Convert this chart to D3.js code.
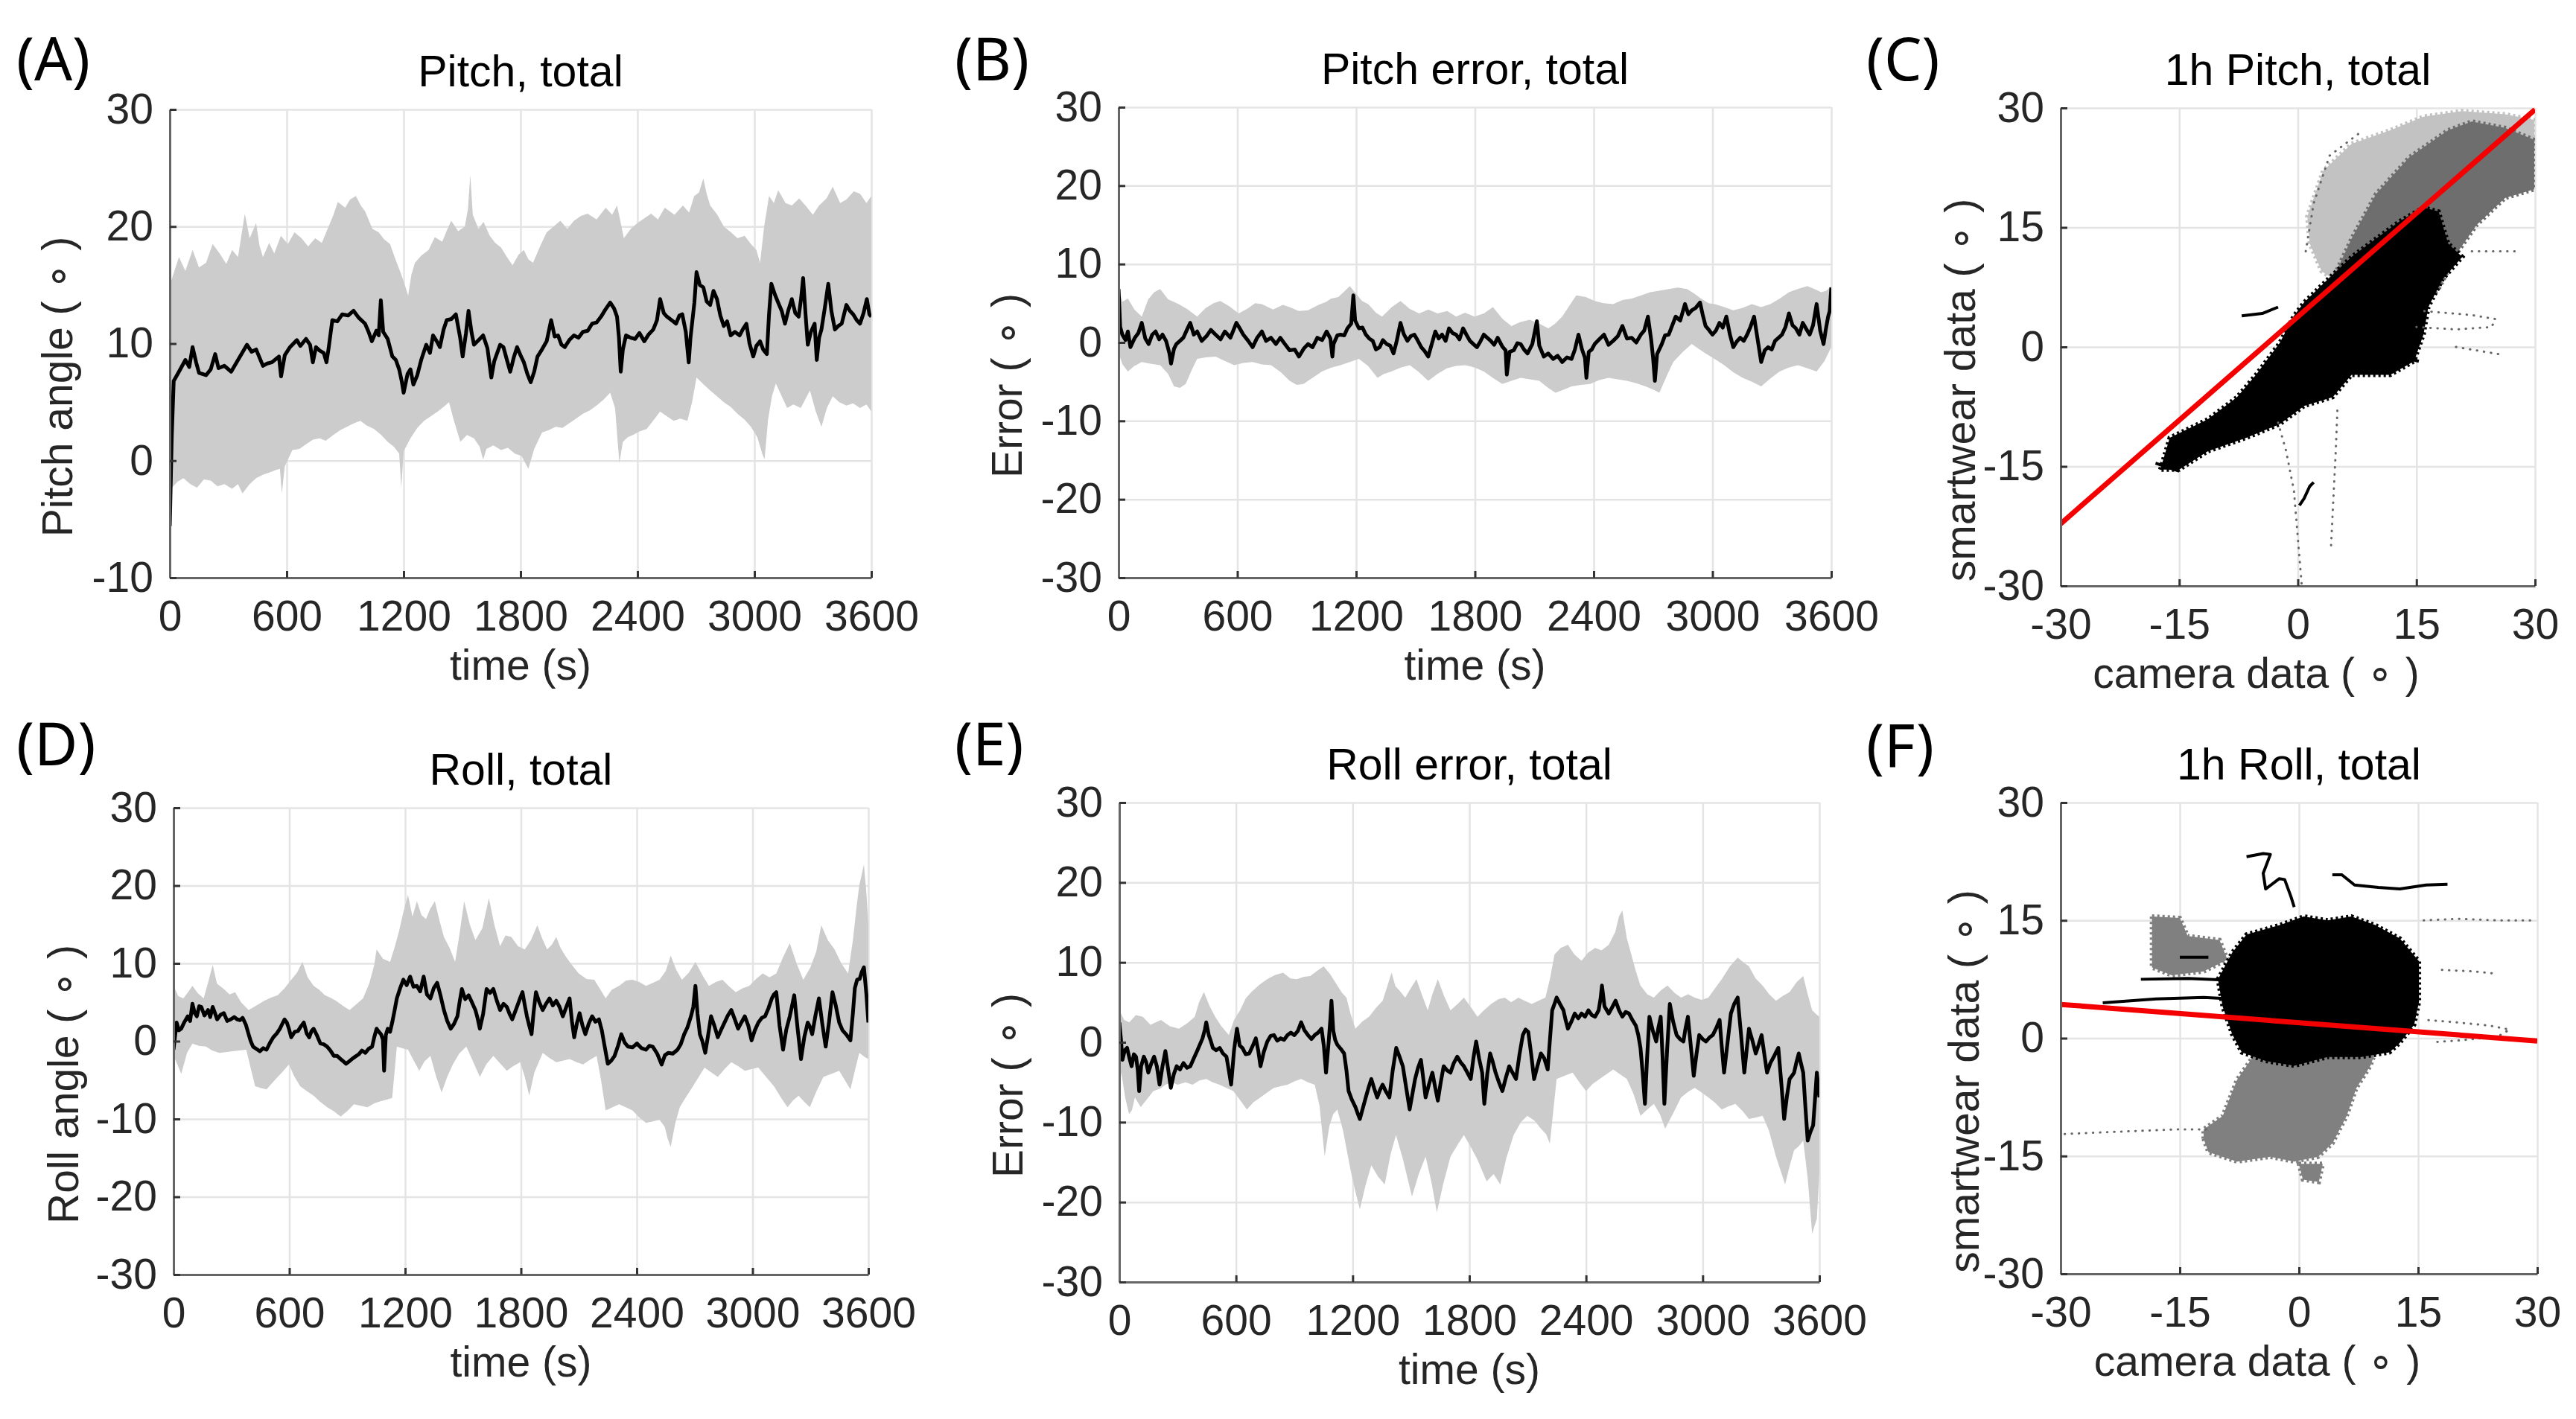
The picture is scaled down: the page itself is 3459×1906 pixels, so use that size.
<!DOCTYPE html>
<html>
<head>
<meta charset="utf-8">
<script src="https://cdn.jsdelivr.net/npm/d3@7"></script>
<style>
body{margin:0;background:#fff;}
svg text{font-family:"Liberation Sans",Arial,sans-serif;}
</style>
</head>
<body>
<svg id="fig" width="3459" height="1906"></svg>
<script>
var timeTicks = [0,600,1200,1800,2400,3000,3600];
var pitchTicks = [-10,0,10,20,30];
var errTicks = [-30,-20,-10,0,10,20,30];
var scatTicks = [-30,-15,0,15,30];

// (A) pitch, total : [time s, deg]
var pitchMean = [[0,-5.6],[10,2],[20,6.8],[47,7.6],[80,8.6],[100,8.0],[117,9.7],[135,8.4],[150,7.5],[186,7.3],[210,7.8],[233,9.1],[250,7.9],[280,8.1],[315,7.6],[350,8.6],[396,9.9],[420,9.3],[443,9.5],[478,8.1],[500,8.3],[524,8.4],[560,8.9],[571,7.2],[590,9.0],[617,9.7],[652,10.3],[670,9.8],[699,10.4],[720,9.9],[734,8.4],[750,9.7],[769,9.4],[790,9.2],[804,8.4],[815,9.6],[834,12.0],[860,11.9],[885,12.5],[915,12.4],[943,12.8],[970,12.2],[1002,11.7],[1020,11.0],[1037,10.2],[1060,11.1],[1072,10.7],[1083,13.7],[1095,11.0],[1118,10.4],[1142,8.9],[1160,8.6],[1177,7.8],[1190,6.8],[1200,5.8],[1220,7.4],[1235,7.8],[1250,6.5],[1270,7.3],[1290,8.6],[1316,9.9],[1335,9.2],[1351,10.7],[1370,10.2],[1386,9.7],[1405,11.2],[1421,12.0],[1445,12.1],[1468,12.5],[1490,10.5],[1503,8.9],[1520,10.9],[1533,12.8],[1548,11.0],[1561,9.9],[1585,10.3],[1608,10.7],[1630,9.6],[1650,7.1],[1665,8.5],[1678,9.1],[1695,9.9],[1712,9.7],[1730,8.6],[1747,7.6],[1765,8.8],[1782,9.7],[1800,9.0],[1817,8.4],[1835,7.4],[1852,6.7],[1870,7.6],[1887,8.9],[1910,9.5],[1934,10.2],[1957,12.0],[1975,10.6],[1992,10.7],[2010,9.9],[2027,9.7],[2050,10.3],[2074,10.7],[2097,10.5],[2120,11.0],[2145,11.1],[2167,11.7],[2190,11.8],[2213,12.3],[2235,12.9],[2260,13.5],[2280,13.0],[2295,12.3],[2305,10.5],[2314,7.6],[2325,9.5],[2341,10.7],[2365,10.5],[2388,10.4],[2410,10.9],[2435,10.2],[2458,10.8],[2481,11.2],[2500,12.0],[2516,13.8],[2535,12.6],[2551,12.3],[2575,12.0],[2598,11.7],[2615,12.4],[2630,12.5],[2648,11.0],[2663,8.4],[2672,10.5],[2680,11.7],[2692,13.5],[2703,16.1],[2720,15.0],[2738,14.8],[2755,13.6],[2773,13.3],[2790,14.5],[2808,13.8],[2825,12.4],[2843,11.5],[2860,11.9],[2878,10.7],[2900,11.0],[2924,10.7],[2940,11.2],[2959,11.7],[2975,10.0],[2994,8.9],[3010,9.8],[3029,10.2],[3045,9.5],[3064,9.1],[3075,12.5],[3087,15.1],[3105,14.2],[3122,13.5],[3140,12.8],[3157,11.7],[3175,12.9],[3192,13.8],[3210,12.6],[3227,12.3],[3240,13.9],[3250,15.6],[3262,12.6],[3274,9.9],[3290,11.0],[3309,11.7],[3320,8.6],[3332,10.5],[3344,11.2],[3360,12.9],[3379,15.1],[3395,12.8],[3413,11.2],[3430,11.5],[3448,11.7],[3460,12.5],[3472,13.3],[3490,12.8],[3507,12.5],[3525,12.0],[3542,11.7],[3560,12.6],[3577,13.8],[3590,12.5],[3600,12.3]];
var pitchUpper = [[0,15],[47,17.4],[80,16.2],[117,18.0],[150,16.5],[186,16.9],[220,18.5],[256,17.7],[290,16.8],[320,18.0],[350,17.4],[385,21.1],[410,19.0],[443,20.3],[460,18.4],[478,17.4],[510,18.6],[536,17.7],[570,19.2],[606,18.5],[640,19.5],[676,19.0],[710,18.3],[746,19.0],[780,18.6],[815,20.0],[840,21.0],[862,22.1],[900,21.6],[925,22.3],[955,22.6],[980,21.8],[1002,21.3],[1040,19.8],[1072,19.5],[1100,18.9],[1130,18.5],[1160,17.1],[1188,15.9],[1210,14.8],[1223,14.1],[1240,15.9],[1258,16.9],[1290,17.5],[1328,18.0],[1360,19.1],[1398,18.7],[1420,19.6],[1444,20.5],[1480,19.6],[1514,20.0],[1530,21.5],[1542,24.4],[1555,21.0],[1584,19.8],[1610,20.4],[1642,19.2],[1670,18.6],[1700,18.2],[1730,17.4],[1759,16.7],[1790,17.6],[1817,18.0],[1840,17.2],[1864,16.9],[1900,18.3],[1934,19.5],[1970,20.0],[2004,20.5],[2040,19.8],[2074,20.5],[2110,20.9],[2144,21.1],[2190,20.6],[2237,21.6],[2270,21.0],[2295,21.8],[2312,20.5],[2330,19.0],[2365,19.8],[2400,20.3],[2435,20.7],[2470,21.1],[2505,20.6],[2540,21.6],[2590,21.0],[2633,21.8],[2665,21.2],[2691,22.6],[2715,22.9],[2738,24.1],[2755,22.8],[2773,21.8],[2810,21.0],[2843,20.0],[2880,19.5],[2913,19.0],[2950,19.2],[2982,18.5],[3010,18.0],[3029,16.9],[3050,20.0],[3075,22.6],[3100,22.0],[3122,23.1],[3160,22.0],[3192,21.8],[3230,22.4],[3262,21.8],[3300,21.0],[3332,21.8],[3370,22.4],[3402,23.4],[3440,22.0],[3472,22.3],[3510,23.0],[3542,22.8],[3575,22.0],[3600,22.6]];
var pitchLower = [[0,-2.5],[40,-1.8],[70,-1.5],[105,-2.0],[140,-2.3],[175,-1.6],[210,-1.7],[245,-2.2],[280,-2.0],[320,-2.4],[350,-2.0],[373,-2.8],[410,-2.0],[443,-1.5],[480,-1.2],[513,-1.0],[545,-0.8],[565,-0.7],[575,-2.8],[590,-0.5],[629,0.9],[665,1.0],[699,1.4],[735,1.8],[769,1.9],[800,1.7],[839,2.2],[875,2.6],[909,2.9],[945,3.2],[978,3.4],[1010,3.0],[1048,2.7],[1085,2.2],[1118,1.6],[1150,1.2],[1177,0.6],[1188,-2.3],[1200,0.8],[1235,1.9],[1270,2.8],[1305,3.4],[1340,3.8],[1375,4.2],[1405,4.6],[1433,5.0],[1455,3.6],[1491,1.6],[1525,2.2],[1561,1.9],[1590,1.2],[1608,0.1],[1625,1.0],[1660,1.3],[1700,0.9],[1735,1.1],[1770,0.6],[1805,0.4],[1840,-0.7],[1870,1.0],[1910,2.4],[1945,2.6],[1980,2.9],[2015,2.8],[2050,3.2],[2085,3.6],[2120,4.0],[2155,4.3],[2190,4.7],[2225,5.2],[2260,5.8],[2285,4.5],[2307,-0.2],[2325,1.6],[2350,2.0],[2377,2.2],[2410,2.5],[2447,2.7],[2480,3.4],[2516,4.2],[2550,3.8],[2586,3.4],[2620,3.6],[2656,3.4],[2680,5.0],[2703,7.1],[2740,6.5],[2773,6.0],[2808,5.5],[2843,5.0],[2878,4.6],[2913,4.0],[2950,3.5],[2982,2.9],[3015,2.0],[3040,0.6],[3052,0.1],[3070,3.5],[3090,5.5],[3110,6.6],[3140,5.5],[3168,4.5],[3200,4.8],[3238,4.5],[3260,5.2],[3285,6.0],[3315,4.2],[3344,2.9],[3372,4.5],[3402,5.5],[3436,5.0],[3472,4.7],[3506,4.9],[3542,4.5],[3575,4.8],[3600,4.2]];

// (B) pitch error, total
var pitchErrMean = [[0,6.8],[8,2.0],[19,1.0],[35,0.3],[47,1.4],[60,-0.6],[82,0.6],[100,1.2],[117,2.5],[135,0.5],[152,-0.2],[170,1.0],[187,1.4],[205,0.4],[222,1.0],[240,0.2],[257,-1.4],[265,-2.7],[280,-0.8],[292,-0.2],[310,0.2],[327,0.6],[345,1.6],[362,2.5],[380,1.0],[397,1.4],[420,0.2],[444,0.8],[466,1.6],[490,1.0],[515,0.4],[537,1.4],[565,0.6],[595,2.5],[612,1.8],[630,1.0],[655,0.2],[677,-0.6],[700,0.6],[724,1.4],[745,0.2],[770,0.6],[795,-0.2],[817,0.6],[840,-0.2],[864,-1.0],[890,-0.9],[911,-1.8],[935,-0.8],[957,-0.2],[980,-0.6],[1004,0.6],[1028,0.3],[1051,1.4],[1070,0.5],[1080,-1.8],[1086,-0.2],[1105,0.9],[1121,1.0],[1140,0.9],[1156,1.8],[1175,2.4],[1186,6.0],[1195,2.8],[1214,1.8],[1232,1.9],[1249,1.0],[1266,0.5],[1284,0.2],[1300,-0.9],[1319,-0.6],[1335,0.3],[1354,-0.2],[1372,-0.4],[1389,-1.4],[1405,0.2],[1424,2.5],[1440,1.1],[1459,0.2],[1476,0.8],[1494,1.0],[1510,0.3],[1529,-0.6],[1546,-1.1],[1564,-1.8],[1582,-0.2],[1600,1.4],[1617,0.5],[1634,1.0],[1652,0.2],[1669,1.8],[1687,1.2],[1705,1.0],[1722,0.4],[1740,1.8],[1757,1.0],[1775,0.2],[1792,-0.2],[1810,-0.6],[1827,0.1],[1845,1.0],[1862,0.6],[1880,0.2],[1897,-0.3],[1915,0.6],[1938,-0.5],[1955,-1.0],[1961,-4.1],[1975,-1.2],[1996,-1.0],[2014,-0.1],[2031,-0.2],[2048,-0.9],[2066,-1.4],[2090,-0.2],[2113,2.7],[2125,-0.4],[2148,-1.8],[2170,-1.4],[2195,-2.1],[2218,-1.7],[2241,-2.5],[2265,-1.9],[2288,-2.1],[2305,-0.9],[2323,1.0],[2340,-0.8],[2356,-2.0],[2363,-4.5],[2375,-1.2],[2390,-0.9],[2405,-0.2],[2428,0.4],[2452,1.0],[2475,-0.3],[2498,0.2],[2522,0.8],[2545,2.1],[2568,0.5],[2592,0.6],[2615,0.0],[2638,1.0],[2655,1.5],[2674,3.3],[2690,0.4],[2700,-2.0],[2709,-4.9],[2720,-1.5],[2744,-0.2],[2760,0.9],[2779,1.0],[2797,2.2],[2814,3.3],[2837,2.8],[2861,4.9],[2878,3.6],[2895,4.1],[2915,4.4],[2937,5.1],[2950,3.6],[2965,2.1],[2982,1.6],[3000,1.0],[3017,1.5],[3035,2.5],[3052,1.9],[3070,3.3],[3088,1.0],[3105,-0.6],[3122,0.1],[3140,0.6],[3158,0.2],[3175,1.0],[3192,2.0],[3210,3.3],[3228,0.4],[3246,-2.5],[3264,-1.0],[3281,-0.6],[3299,-0.9],[3316,0.2],[3334,0.6],[3351,1.0],[3369,2.0],[3386,3.7],[3404,2.2],[3421,1.8],[3439,1.0],[3456,2.5],[3474,1.7],[3491,1.0],[3508,2.2],[3526,4.9],[3544,1.5],[3561,-0.2],[3572,1.6],[3584,3.3],[3592,4.0],[3600,7.0]];
var pitchErrUpper = [[0,6.8],[20,5.2],[47,5.6],[80,4.2],[117,3.3],[150,5.5],[180,6.4],[210,6.8],[250,5.5],[304,4.9],[350,4.2],[397,3.3],[440,4.4],[480,5.0],[514,5.3],[560,4.6],[607,3.7],[650,4.3],[690,5.0],[724,4.9],[780,4.2],[830,4.8],[864,4.5],[910,4.0],[957,4.1],[1010,4.8],[1050,5.2],[1074,5.6],[1110,5.8],[1140,6.5],[1168,7.2],[1200,6.2],[1230,5.3],[1261,4.9],[1300,3.8],[1331,3.3],[1380,4.5],[1424,5.3],[1470,4.3],[1518,3.7],[1565,4.2],[1611,3.7],[1660,4.0],[1705,3.3],[1750,3.8],[1798,3.3],[1845,3.7],[1891,4.5],[1940,3.0],[1985,2.1],[2030,2.6],[2078,2.9],[2125,2.4],[2171,1.8],[2205,2.4],[2241,3.3],[2280,4.8],[2312,6.0],[2360,5.8],[2405,5.3],[2450,5.0],[2498,4.9],[2545,5.4],[2592,5.6],[2640,6.0],[2685,6.4],[2730,6.6],[2779,6.8],[2825,7.0],[2872,6.8],[2910,6.2],[2942,5.6],[2980,5.0],[3012,4.9],[3060,4.5],[3105,4.1],[3150,4.4],[3199,4.9],[3245,4.5],[3292,4.9],[3340,5.6],[3386,6.4],[3430,6.8],[3479,7.2],[3515,6.8],[3549,6.4],[3575,6.6],[3600,7.2]];
var pitchErrLower = [[0,-1.4],[20,-2.8],[47,-3.7],[80,-3.0],[117,-2.5],[160,-2.7],[210,-2.9],[250,-4.0],[280,-5.6],[310,-5.8],[339,-5.3],[370,-3.5],[397,-2.1],[440,-1.9],[490,-1.8],[540,-2.4],[584,-2.9],[630,-2.6],[677,-2.5],[724,-2.8],[770,-2.9],[820,-3.8],[864,-4.9],[900,-5.4],[934,-5.3],[980,-4.5],[1027,-3.7],[1075,-3.2],[1121,-2.9],[1168,-2.5],[1214,-2.1],[1260,-3.0],[1308,-4.5],[1340,-4.0],[1378,-3.7],[1425,-3.2],[1471,-2.9],[1518,-3.8],[1564,-4.9],[1611,-4.0],[1658,-3.3],[1705,-3.0],[1751,-2.9],[1800,-3.2],[1845,-3.7],[1890,-4.5],[1938,-5.3],[1985,-4.9],[2031,-4.5],[2078,-4.7],[2125,-4.9],[2170,-5.8],[2207,-6.4],[2250,-6.0],[2288,-5.6],[2335,-5.4],[2382,-5.3],[2428,-4.8],[2475,-4.5],[2520,-4.7],[2568,-4.9],[2615,-5.2],[2662,-5.6],[2700,-6.0],[2732,-6.4],[2770,-4.2],[2802,-2.5],[2850,-1.2],[2895,-0.2],[2930,-0.8],[2965,-1.4],[3010,-2.1],[3059,-2.9],[3105,-3.8],[3152,-4.5],[3199,-5.0],[3246,-5.6],[3292,-4.6],[3339,-3.7],[3385,-3.2],[3432,-2.9],[3480,-3.3],[3526,-3.7],[3565,-2.4],[3600,-0.6]];

// (D) roll, total
var rollMean = [[0,-1.1],[16,2.4],[28,1.4],[40,1.6],[55,2.4],[74,3.2],[86,2.6],[98,4.8],[110,3.6],[121,3.2],[133,4.5],[144,4.4],[160,3.3],[179,4.0],[190,3.1],[203,4.4],[215,3.6],[226,2.8],[244,3.4],[261,3.6],[278,2.6],[296,2.8],[315,3.1],[330,2.8],[345,2.7],[358,3.0],[375,2.1],[389,0.9],[400,0.0],[412,-0.7],[430,-1.0],[447,-1.3],[465,-0.9],[482,-1.1],[500,-0.2],[517,0.5],[535,1.0],[551,1.6],[563,2.2],[575,2.8],[587,2.4],[598,1.6],[610,0.5],[628,1.2],[645,1.3],[660,1.9],[675,2.4],[690,1.0],[703,0.5],[715,1.3],[726,1.6],[744,0.7],[761,-0.3],[778,-0.4],[796,-0.7],[813,-1.2],[831,-1.9],[848,-1.9],[866,-2.3],[880,-2.6],[894,-2.9],[910,-2.6],[924,-2.3],[941,-2.0],[959,-1.7],[976,-1.2],[994,-1.5],[1010,-1.0],[1029,-0.7],[1040,0.5],[1052,1.6],[1064,1.2],[1075,0.9],[1085,0.2],[1091,-3.8],[1100,0.8],[1110,1.6],[1122,1.2],[1133,2.4],[1145,3.9],[1157,5.5],[1174,6.8],[1191,7.9],[1208,7.2],[1226,8.3],[1243,7.0],[1261,7.1],[1278,6.4],[1296,8.3],[1313,6.0],[1331,5.5],[1348,6.8],[1366,7.5],[1383,5.9],[1401,4.0],[1418,2.6],[1436,1.6],[1453,2.2],[1471,3.2],[1482,5.0],[1494,6.7],[1511,5.4],[1529,5.9],[1546,5.0],[1564,4.0],[1575,3.0],[1587,1.6],[1604,3.5],[1622,6.7],[1640,6.2],[1657,6.7],[1675,5.2],[1692,4.0],[1710,4.8],[1727,4.4],[1741,3.5],[1755,2.8],[1770,3.8],[1785,4.8],[1797,5.6],[1808,6.3],[1820,4.6],[1831,3.2],[1843,2.0],[1855,0.9],[1866,3.8],[1878,6.3],[1895,5.0],[1913,4.0],[1930,4.8],[1948,5.5],[1965,4.6],[1983,5.2],[2000,4.4],[2017,3.2],[2035,4.4],[2052,5.5],[2064,2.6],[2076,0.5],[2090,2.3],[2104,3.6],[2119,2.0],[2134,0.9],[2152,2.3],[2169,3.2],[2186,2.5],[2204,2.8],[2219,1.4],[2234,-0.7],[2250,-2.9],[2268,-2.5],[2285,-1.9],[2303,-0.6],[2320,0.9],[2338,-0.2],[2355,-0.7],[2378,-0.8],[2401,-0.3],[2425,-0.9],[2448,-1.1],[2465,-0.6],[2483,-0.7],[2506,-1.6],[2529,-3.0],[2546,-1.8],[2564,-1.5],[2587,-1.6],[2611,-1.1],[2628,-0.4],[2646,0.9],[2663,1.8],[2681,3.2],[2693,4.4],[2704,7.1],[2715,3.5],[2727,0.9],[2740,0.0],[2755,-1.5],[2770,0.8],[2785,3.2],[2802,2.0],[2820,0.5],[2838,1.5],[2855,2.4],[2872,3.3],[2890,4.0],[2908,2.8],[2925,1.6],[2942,2.4],[2960,3.2],[2978,2.0],[2995,0.1],[3012,1.4],[3030,2.4],[3048,3.0],[3065,3.2],[3082,4.2],[3100,5.5],[3111,6.0],[3123,6.3],[3140,2.0],[3158,-1.1],[3175,1.5],[3193,3.2],[3205,4.6],[3216,5.9],[3234,1.5],[3251,-2.3],[3268,0.5],[3286,2.4],[3298,1.8],[3309,0.9],[3326,3.3],[3344,5.5],[3361,2.3],[3379,-0.7],[3396,2.4],[3414,6.3],[3431,4.6],[3449,2.4],[3466,1.4],[3484,0.9],[3496,0.5],[3507,0.1],[3520,3.6],[3530,6.8],[3542,7.9],[3555,8.0],[3566,8.9],[3577,9.5],[3590,6.0],[3600,2.4]];
var rollUpper = [[0,7.1],[25,5.8],[51,5.5],[75,6.3],[98,7.1],[125,6.2],[156,5.5],[180,7.6],[203,9.8],[225,7.4],[261,6.7],[290,6.0],[319,6.3],[350,5.0],[389,4.0],[430,4.6],[470,5.2],[505,5.6],[540,5.9],[575,6.8],[610,7.9],[640,8.8],[668,10.2],[695,8.2],[726,7.1],[755,6.6],[784,5.9],[812,5.6],[842,5.2],[875,4.6],[912,4.0],[950,4.8],[982,5.5],[1015,7.5],[1040,9.8],[1052,11.8],[1085,10.6],[1122,10.2],[1145,12.0],[1168,14.1],[1190,16.5],[1215,18.8],[1238,16.0],[1261,18.0],[1285,16.2],[1308,15.7],[1330,17.0],[1354,18.0],[1378,15.5],[1401,13.4],[1430,12.0],[1459,10.2],[1480,13.5],[1506,18.0],[1535,15.0],[1564,13.0],[1600,14.5],[1634,18.4],[1662,15.0],[1692,12.2],[1720,13.6],[1750,13.4],[1785,12.2],[1820,11.8],[1852,13.0],[1885,14.9],[1910,13.2],[1936,11.8],[1960,12.4],[1983,13.4],[2005,12.0],[2029,11.0],[2064,9.8],[2099,8.7],[2140,8.0],[2180,7.9],[2210,6.7],[2239,5.5],[2270,6.6],[2308,7.1],[2345,7.8],[2378,7.9],[2413,7.6],[2448,7.1],[2483,7.5],[2518,7.9],[2550,9.0],[2576,11.0],[2604,9.2],[2634,7.9],[2670,8.8],[2704,10.2],[2740,8.5],[2774,7.1],[2810,7.6],[2844,7.9],[2880,7.0],[2913,6.3],[2948,6.8],[2983,7.1],[3018,8.0],[3053,8.7],[3088,8.2],[3123,8.7],[3158,10.8],[3193,12.6],[3228,10.0],[3263,7.9],[3300,9.5],[3330,11.5],[3356,14.9],[3390,13.0],[3425,11.8],[3460,10.0],[3495,8.7],[3520,13.0],[3540,17.5],[3553,20.0],[3577,22.7],[3590,19.0],[3600,14.9]];
var rollLower = [[0,-1.9],[20,-3.0],[40,-4.2],[70,-1.5],[98,-0.3],[130,-0.6],[168,-0.7],[200,-1.2],[237,-1.5],[270,-1.4],[307,-1.3],[340,-1.2],[377,-1.1],[400,-3.5],[423,-5.8],[450,-6.0],[482,-6.2],[510,-5.4],[540,-4.6],[570,-3.8],[598,-3.0],[625,-4.5],[656,-5.8],[690,-6.4],[726,-7.0],[760,-7.8],[796,-8.5],[830,-9.0],[866,-9.7],[900,-9.0],[935,-8.1],[970,-8.3],[1005,-8.5],[1040,-8.0],[1075,-7.7],[1105,-7.5],[1133,-7.3],[1145,-4.0],[1157,-0.7],[1185,-0.9],[1215,-1.1],[1245,-2.5],[1273,-3.8],[1300,-2.6],[1331,-1.9],[1360,-4.5],[1389,-6.6],[1418,-4.6],[1447,-3.0],[1480,-1.6],[1517,-0.7],[1550,-2.5],[1587,-4.6],[1620,-3.0],[1657,-1.9],[1690,-2.8],[1727,-3.8],[1760,-3.2],[1796,-2.7],[1820,-4.6],[1843,-7.0],[1870,-4.0],[1913,-1.5],[1950,-2.2],[1983,-2.7],[2017,-2.5],[2052,-2.3],[2088,-2.7],[2122,-3.0],[2158,-2.4],[2192,-1.9],[2215,-5.0],[2239,-8.9],[2275,-8.5],[2308,-8.1],[2343,-8.5],[2378,-8.9],[2413,-9.8],[2448,-10.5],[2483,-10.3],[2518,-10.1],[2545,-11.0],[2560,-12.5],[2576,-13.6],[2600,-10.5],[2623,-8.5],[2650,-7.4],[2681,-6.2],[2716,-4.8],[2751,-3.4],[2785,-4.0],[2820,-4.6],[2855,-3.6],[2890,-2.7],[2925,-3.2],[2960,-3.8],[2995,-3.6],[3030,-3.4],[3070,-4.6],[3111,-5.8],[3146,-7.2],[3181,-8.5],[3210,-7.6],[3239,-7.0],[3268,-7.8],[3297,-8.5],[3330,-6.5],[3367,-4.6],[3408,-4.2],[3449,-3.8],[3478,-5.0],[3507,-6.2],[3530,-3.8],[3553,-1.5],[3580,-2.0],[3600,-2.3]];

// (E) roll error, total
var rollErrMean = [[0,2.5],[8,0.5],[16,-2.2],[28,-1.0],[40,-0.7],[52,-2.0],[63,-3.0],[75,-1.5],[86,-1.8],[95,-3.5],[102,-6.1],[112,-3.0],[126,-1.8],[138,-2.5],[149,-3.8],[165,-2.6],[179,-1.8],[193,-3.0],[207,-5.3],[222,-3.0],[237,-1.1],[250,-3.2],[265,-5.7],[280,-4.0],[295,-3.0],[312,-3.4],[330,-2.6],[348,-3.2],[365,-3.0],[383,-2.0],[400,-1.1],[414,-0.3],[428,0.5],[440,1.6],[447,2.5],[460,0.9],[470,0.2],[481,-0.7],[498,-1.0],[516,-0.7],[533,-1.4],[551,-1.8],[563,-3.5],[575,-5.3],[590,-1.0],[605,1.7],[619,-0.4],[633,-0.7],[650,-1.5],[668,-1.4],[685,-0.5],[702,0.5],[714,-1.0],[726,-3.0],[743,-1.2],[761,0.1],[778,0.8],[795,0.9],[812,0.2],[830,0.5],[847,0.3],[865,0.9],[882,1.2],[900,0.9],[918,1.4],[935,2.5],[952,1.5],[970,0.9],[988,0.4],[1005,0.9],[1022,1.2],[1040,1.7],[1052,-0.5],[1063,-3.8],[1077,0.2],[1085,2.8],[1091,5.2],[1100,1.5],[1110,0.3],[1121,-0.3],[1138,-0.8],[1156,-1.4],[1168,-3.5],[1179,-6.1],[1196,-7.2],[1214,-8.1],[1226,-8.9],[1237,-9.6],[1255,-8.0],[1272,-6.5],[1284,-5.5],[1296,-4.6],[1311,-5.8],[1326,-6.9],[1340,-6.0],[1354,-5.3],[1372,-6.2],[1389,-6.9],[1406,-3.5],[1424,-0.7],[1441,-1.8],[1458,-3.0],[1476,-5.8],[1493,-8.4],[1507,-6.5],[1521,-4.6],[1536,-3.2],[1551,-2.2],[1563,-4.5],[1575,-6.9],[1592,-5.3],[1610,-3.8],[1624,-5.6],[1638,-7.3],[1653,-5.0],[1668,-3.0],[1685,-3.5],[1703,-3.8],[1720,-2.6],[1738,-1.8],[1755,-2.5],[1772,-3.0],[1790,-3.8],[1807,-4.6],[1821,-2.0],[1835,0.1],[1850,-2.0],[1866,-3.8],[1877,-7.7],[1892,-4.0],[1907,-1.4],[1921,-2.5],[1935,-3.8],[1952,-5.0],[1970,-6.1],[1987,-4.5],[2005,-3.0],[2022,-3.8],[2040,-4.6],[2058,-1.5],[2075,0.9],[2089,1.6],[2103,1.3],[2118,-1.5],[2133,-4.6],[2150,-3.0],[2168,-1.4],[2185,-2.0],[2203,-3.4],[2215,0.5],[2226,4.0],[2238,4.8],[2249,5.6],[2266,4.8],[2284,4.0],[2295,2.8],[2307,1.7],[2325,2.6],[2342,3.6],[2360,3.0],[2377,3.6],[2395,3.2],[2412,4.0],[2430,3.4],[2447,3.2],[2465,4.0],[2475,5.5],[2482,7.1],[2495,4.5],[2517,3.6],[2535,4.4],[2552,5.2],[2570,4.0],[2587,3.2],[2604,3.8],[2621,3.6],[2638,2.8],[2656,2.1],[2668,1.0],[2680,-0.7],[2692,-4.0],[2703,-7.7],[2714,-2.0],[2726,3.2],[2743,1.5],[2761,0.1],[2772,1.8],[2784,3.2],[2794,-2.0],[2803,-7.7],[2817,-1.0],[2831,4.8],[2848,2.6],[2866,0.9],[2883,0.4],[2901,0.1],[2912,1.8],[2924,3.2],[2939,-0.5],[2954,-4.2],[2968,-1.5],[2982,0.9],[3000,0.4],[3017,0.1],[3035,0.6],[3052,0.9],[3070,1.8],[3087,2.8],[3098,-0.5],[3110,-3.8],[3128,0.0],[3145,3.6],[3162,4.8],[3180,5.6],[3197,1.0],[3214,-3.8],[3226,-1.0],[3238,1.7],[3256,0.2],[3273,-1.4],[3288,-0.3],[3303,0.9],[3317,-1.5],[3331,-3.8],[3348,-2.6],[3366,-1.8],[3378,-1.2],[3389,-0.7],[3404,-5.0],[3419,-9.6],[3433,-6.8],[3447,-4.6],[3459,-4.2],[3470,-3.8],[3482,-2.5],[3494,-1.4],[3505,-2.6],[3517,-3.8],[3528,-8.0],[3540,-12.3],[3554,-11.2],[3568,-10.4],[3578,-7.0],[3587,-3.8],[3600,-6.9]];
var rollErrUpper = [[0,4.0],[25,2.8],[51,2.5],[85,3.4],[121,3.2],[160,2.2],[214,2.8],[260,2.0],[307,1.7],[350,2.4],[388,3.2],[410,5.0],[435,6.3],[465,4.5],[493,3.2],[525,2.0],[563,0.9],[590,2.8],[621,4.0],[650,5.5],[679,6.3],[720,7.2],[760,7.9],[800,8.4],[842,8.7],[880,8.0],[912,7.9],[950,8.2],[982,8.3],[1020,9.0],[1051,9.5],[1085,8.5],[1121,7.1],[1145,6.2],[1168,5.6],[1190,3.5],[1214,1.7],[1250,2.6],[1284,3.2],[1320,4.3],[1354,5.2],[1378,7.0],[1400,8.7],[1420,7.0],[1440,6.5],[1470,5.6],[1500,6.8],[1528,7.9],[1555,6.0],[1586,4.0],[1610,6.0],[1638,7.9],[1670,5.8],[1703,4.0],[1740,4.8],[1772,5.6],[1805,4.5],[1842,3.2],[1875,4.0],[1912,4.8],[1950,5.4],[1982,5.6],[2015,5.0],[2052,5.6],[2085,5.2],[2121,4.8],[2155,5.2],[2191,5.6],[2215,8.0],[2238,11.0],[2270,11.8],[2307,12.2],[2340,11.0],[2377,10.2],[2410,11.2],[2447,11.8],[2480,11.5],[2517,12.2],[2550,13.8],[2570,15.8],[2587,16.5],[2610,13.0],[2633,11.0],[2655,9.0],[2680,7.1],[2715,6.0],[2749,5.6],[2785,6.5],[2819,7.1],[2855,6.2],[2889,5.6],[2925,6.0],[2959,5.6],[2995,5.3],[3029,5.6],[3065,6.8],[3098,7.9],[3140,9.5],[3180,10.6],[3210,10.0],[3238,9.5],[3272,8.0],[3308,7.1],[3342,6.0],[3377,5.2],[3412,5.8],[3447,6.3],[3482,7.5],[3517,8.3],[3540,6.0],[3563,4.0],[3585,3.5],[3600,3.2]];
var rollErrLower = [[0,-3.0],[15,-4.5],[30,-6.9],[50,-9.0],[65,-8.5],[80,-6.9],[110,-8.1],[140,-7.2],[175,-6.1],[210,-5.8],[237,-5.3],[270,-5.0],[300,-5.3],[340,-5.0],[377,-5.3],[410,-4.8],[447,-4.6],[480,-5.0],[516,-5.3],[550,-5.7],[586,-6.1],[620,-7.2],[656,-8.4],[690,-7.5],[726,-6.9],[760,-6.3],[795,-5.7],[830,-5.5],[865,-5.3],[900,-4.9],[935,-4.6],[970,-5.0],[1005,-5.3],[1030,-8.0],[1056,-14.3],[1080,-10.5],[1100,-9.0],[1121,-8.4],[1150,-11.0],[1191,-16.2],[1215,-18.8],[1237,-20.9],[1265,-18.0],[1296,-15.4],[1330,-16.8],[1365,-17.8],[1395,-14.0],[1423,-11.6],[1460,-14.8],[1505,-19.3],[1540,-16.5],[1575,-14.3],[1605,-17.5],[1633,-21.3],[1665,-17.8],[1703,-14.3],[1740,-12.8],[1772,-11.6],[1805,-13.0],[1842,-14.7],[1889,-17.4],[1925,-16.5],[1959,-17.8],[1990,-14.5],[2028,-11.6],[2065,-10.0],[2098,-9.2],[2135,-9.8],[2168,-10.8],[2195,-11.5],[2214,-12.7],[2232,-8.5],[2249,-4.6],[2290,-4.2],[2331,-3.8],[2366,-5.0],[2400,-6.1],[2435,-5.2],[2470,-4.6],[2505,-4.0],[2540,-3.4],[2575,-4.0],[2610,-4.6],[2645,-6.5],[2680,-9.2],[2715,-8.4],[2749,-7.7],[2780,-9.0],[2807,-10.8],[2850,-8.8],[2889,-6.9],[2925,-6.2],[2959,-5.7],[2995,-6.3],[3029,-6.9],[3065,-7.6],[3098,-8.4],[3135,-8.0],[3168,-7.7],[3205,-8.6],[3238,-9.6],[3275,-9.4],[3308,-9.2],[3340,-11.0],[3377,-14.3],[3400,-16.0],[3424,-17.8],[3447,-15.5],[3470,-13.5],[3495,-13.0],[3517,-12.3],[3540,-17.0],[3563,-24.0],[3575,-23.0],[3587,-22.1],[3600,-16.2]];

// (C) 1h pitch scatter: outlines of the point clouds [camera, smartwear]
var pitchCloudLight = [[1.5,13],[1.2,16.4],[3.2,22.1],[6.8,25.5],[11.7,27.2],[15.9,28.9],[20.8,29.6],[26.2,29.2],[29.9,28.5],[29.9,24.9],[25,23.8],[22,20],[18,15],[14,11],[10,8],[6,7.5],[3,9.5]];
var pitchCloudMid = [[4.4,8.5],[6.8,13.6],[9.9,19.2],[14.1,23.8],[19,27.2],[22,28.3],[26.2,27.5],[29.9,26],[29.9,19.8],[26.2,18.7],[22.6,15.3],[20.2,11.9],[17.8,7.3],[14.1,3.9],[9.9,2.8],[5.6,2.8]];
var pitchCloudBlack = [[-17.4,-15.4],[-16.2,-11.4],[-11.4,-9.1],[-7.7,-6.3],[-5.3,-3.5],[-2.3,0.5],[-0.5,3.9],[0.8,5.6],[3.8,8.5],[6.8,11.3],[9.9,13.6],[12.9,15.8],[15.9,17.5],[17.8,17],[19,13],[20.8,11.3],[18.3,8.5],[16.5,5],[15.9,1.6],[14.7,-1.8],[11.7,-3.5],[6.8,-3.5],[4.4,-6.3],[0.8,-7.4],[-2.3,-9.7],[-6.5,-11.4],[-11.4,-13.1],[-15,-15.4]];
var pitchTrails = [[[-7.1,3.9],[-4.5,4.2],[-2.5,5.0]],[[0.2,-19.9],[0.8,-19.0],[1.5,-17.5],[2,-17]],[[12.9,-1.2],[15.3,-1.8]],[[-18,-14.6],[-15,-15.6]]];
var pitchDots = [[[-2.5,-9.5],[-1.5,-13],[-0.5,-18],[0,-24],[0.5,-30]],[[5,-8],[4.8,-13],[4.5,-19],[4.2,-25]],[[16,4.5],[22,4.0],[25,3.5],[24.5,2.5],[20,2.2],[15,2.5]],[[1,12],[2,18],[4,24],[8,27]],[[20,0],[26,-1]],[[22,12],[28,12]]];
var pitchFit = [[-30,-22.2],[30,29.8]];

// (F) 1h roll scatter
var rollCloudMid = [[[-12,-12.8],[-11.4,-14.5],[-7.8,-15.7],[-3.6,-15.1],[-0.6,-15.7],[2.4,-15.1],[4.2,-13.4],[6,-9.9],[7.2,-6.4],[9,-3.5],[9.6,-1.8],[6.6,-1.8],[-5.4,-1.8],[-7.8,-5.3],[-9.6,-9.9],[-12,-11.6]],[[-18.5,15.5],[-15,15.3],[-14,13],[-10,12.5],[-9,10],[-12,8.5],[-16,8],[-18.5,9]],[[0,-16],[3,-16],[2.5,-18.3],[0.5,-18]]];
var rollCloudBlack = [[-10.2,7.5],[-8.4,10.9],[-6.6,13.2],[-2.4,14.4],[0.6,15.5],[3.6,15],[6.6,15.5],[9.6,14.4],[12.7,12.7],[15.1,9.8],[15.1,4.6],[14.5,1.7],[12.7,-0.6],[11.4,-1.8],[7.8,-2.4],[3.6,-2.4],[-0.6,-3.5],[-4.2,-2.9],[-7.2,-1.8],[-8.4,0.5],[-9.6,4]];
var rollTrails = [[[-24.7,4.5],[-18,5],[-12,5.2],[-8.4,5]],[[-19.9,7.5],[-14,7.6],[-9,7.4]],[[-6.6,23.1],[-4.5,23.5],[-3.6,23.4],[-4.5,21],[-4.2,19],[-2.5,20.3],[-1.8,20.2],[-1,18],[-0.6,16.7]],[[4.2,20.8],[5.4,20.8],[7,19.5],[10,19.2],[12.7,19],[16,19.5],[18.7,19.6]],[[-15,10.3],[-11.4,10.3]]];
var rollDots = [[[15.7,15],[20,15.2],[25,15],[29.5,15]],[[16.3,2.3],[20,2.0],[24,1.6],[26.5,1.1],[25,0.2],[20,-0.3],[17,-0.5]],[[-29.5,-12.2],[-25,-12],[-20,-11.8],[-15,-11.6],[-11.4,-11.6]],[[18,8.7],[22,8.5],[25,8.2]]];
var rollFit = [[-30,4.3],[30,-0.35]];

var svg = d3.select("#fig");
var clipId = 0;
var plain = function(d){ return String(d); };

function frame(p, xDom, yDom, xTicks, yTicks){
	var x = d3.scaleLinear().domain(xDom).range([p.left, p.right]);
	var y = d3.scaleLinear().domain(yDom).range([p.bottom, p.top]);
	var g = svg.append("g");
	//grid
	g.append("g").attr("transform","translate(0,"+p.bottom+")")
		.call(d3.axisBottom(x).tickValues(xTicks).tickSize(-(p.bottom-p.top)).tickFormat(""))
		.call(function(s){ s.select(".domain").remove(); s.selectAll("line").attr("stroke","#e4e4e4").attr("stroke-width",2.5); });
	g.append("g").attr("transform","translate("+p.left+",0)")
		.call(d3.axisLeft(y).tickValues(yTicks).tickSize(-(p.right-p.left)).tickFormat(""))
		.call(function(s){ s.select(".domain").remove(); s.selectAll("line").attr("stroke","#e4e4e4").attr("stroke-width",2.5); });
	clipId++;
	svg.append("clipPath").attr("id","clip"+clipId).append("rect")
		.attr("x",p.left).attr("y",p.top).attr("width",p.right-p.left).attr("height",p.bottom-p.top);
	var plot = g.append("g").attr("clip-path","url(#clip"+clipId+")");
	return {x:x, y:y, g:g, plot:plot};
}

function axes(f, p, xTicks, yTicks){
	var ax = f.g.append("g").attr("transform","translate(0,"+p.bottom+")")
		.call(d3.axisBottom(f.x).tickValues(xTicks).tickFormat(plain).tickSize(-9).tickSizeOuter(0).tickPadding(31));
	var ay = f.g.append("g").attr("transform","translate("+p.left+",0)")
		.call(d3.axisLeft(f.y).tickValues(yTicks).tickFormat(plain).tickSize(-9).tickSizeOuter(0).tickPadding(22));
	[ax, ay].forEach(function(a){
		a.select(".domain").attr("stroke","#666").attr("stroke-width",3);
		a.selectAll(".tick line").attr("stroke","#333").attr("stroke-width",3);
		a.selectAll(".tick text").attr("font-size",57).attr("fill","#262626")
			.style("font-family","'Liberation Sans',Arial,sans-serif");
	});
}

function labels(p, t){
	var cx = (p.left+p.right)/2;
	svg.append("text").attr("x",cx).attr("y",p.top-31).attr("text-anchor","middle")
		.attr("font-size",59).attr("fill","#000").text(t.title);
	svg.append("text").attr("x",cx+(t.xShift||0)).attr("y",p.bottom+137).attr("text-anchor","middle")
		.attr("font-size",57).attr("fill","#262626").text(t.xlabel);
	var ly = (p.top+p.bottom)/2+58;
	svg.append("text").attr("transform","translate("+(p.left-t.yOff)+","+ly+") rotate(-90)")
		.attr("text-anchor","middle").attr("font-size",57).attr("fill","#262626").text(t.ylabel);
	svg.append("text").attr("x",t.lx).attr("y",t.ly).attr("font-size",80)
		.style("font-family","'Noto Sans','Open Sans',sans-serif").attr("fill","#000").text(t.letter);
}

function seriesPanel(p, yDom, yTicks, mean, upper, lower, t){
	var f = frame(p, [0,3600], yDom, timeTicks, yTicks);
	var line = d3.line().x(function(d){ return f.x(d[0]); }).y(function(d){ return f.y(d[1]); });
	f.plot.append("path")
		.attr("d", line(upper.concat(lower.slice().reverse()))+"Z")
		.attr("fill","#cccccc");
	f.plot.append("path").attr("d",line(mean))
		.attr("fill","none").attr("stroke","#000").attr("stroke-width",5).attr("stroke-linejoin","round");
	axes(f, p, timeTicks, yTicks);
	labels(p, t);
}

function scatterPanel(p, light, mids, black, trails, dots, fit, t){
	var f = frame(p, [-30,30], [-30,30], scatTicks, scatTicks);
	var line = d3.line().x(function(d){ return f.x(d[0]); }).y(function(d){ return f.y(d[1]); });
	if(light){
		f.plot.append("path").attr("d",line(light)+"Z").attr("fill","#c2c2c2")
			.attr("stroke","#c2c2c2").attr("stroke-width",6).attr("stroke-dasharray","3,4");
	}
	mids.forEach(function(m){
		f.plot.append("path").attr("d",line(m)+"Z").attr("fill",t.midColor)
			.attr("stroke",t.midColor).attr("stroke-width",6).attr("stroke-dasharray","3,4");
	});
	f.plot.append("path").attr("d",line(black)+"Z").attr("fill","#000")
		.attr("stroke","#000").attr("stroke-width",6).attr("stroke-dasharray","3,4");
	trails.forEach(function(tr){
		f.plot.append("path").attr("d",line(tr)).attr("fill","none")
			.attr("stroke","#000").attr("stroke-width",4).attr("stroke-linejoin","round");
	});
	dots.forEach(function(dt){
		f.plot.append("path").attr("d",line(dt)).attr("fill","none")
			.attr("stroke","#666").attr("stroke-width",3).attr("stroke-linecap","round").attr("stroke-dasharray","0.5,9");
	});
	f.plot.append("path").attr("d",line(fit)).attr("fill","none")
		.attr("stroke","#f50000").attr("stroke-width",7);
	axes(f, p, scatTicks, scatTicks);
	labels(p, t);
}

var deg = "( \u2218 )";
seriesPanel({left:228,right:1170,top:147,bottom:776},[-10,30],pitchTicks,pitchMean,pitchUpper,pitchLower,
	{title:"Pitch, total",xlabel:"time (s)",ylabel:"Pitch angle "+deg,yOff:131,letter:"(A)",lx:22,ly:108});
seriesPanel({left:1502,right:2459,top:144,bottom:776},[-30,30],errTicks,pitchErrMean,pitchErrUpper,pitchErrLower,
	{title:"Pitch error, total",xlabel:"time (s)",ylabel:"Error "+deg,yOff:130,letter:"(B)",lx:1282,ly:108});
scatterPanel({left:2767,right:3404,top:145,bottom:787},pitchCloudLight,[pitchCloudMid],pitchCloudBlack,pitchTrails,pitchDots,pitchFit,
	{title:"1h Pitch, total",xlabel:"camera data "+deg,xShift:-56,ylabel:"smartwear data "+deg,yOff:115,letter:"(C)",lx:2506,ly:108,midColor:"#6e6e6e"});
seriesPanel({left:233,right:1166,top:1085,bottom:1712},[-30,30],errTicks,rollMean,rollUpper,rollLower,
	{title:"Roll, total",xlabel:"time (s)",ylabel:"Roll angle "+deg,yOff:128,letter:"(D)",lx:22,ly:1028});
seriesPanel({left:1503,right:2443,top:1078,bottom:1722},[-30,30],errTicks,rollErrMean,rollErrUpper,rollErrLower,
	{title:"Roll error, total",xlabel:"time (s)",ylabel:"Error "+deg,yOff:130,letter:"(E)",lx:1282,ly:1028});
scatterPanel({left:2767,right:3407,top:1078,bottom:1711},null,rollCloudMid,rollCloudBlack,rollTrails,rollDots,rollFit,
	{title:"1h Roll, total",xlabel:"camera data "+deg,xShift:-56,ylabel:"smartwear data "+deg,yOff:110,letter:"(F)",lx:2506,ly:1030,midColor:"#808080"});
</script>
</body>
</html>
